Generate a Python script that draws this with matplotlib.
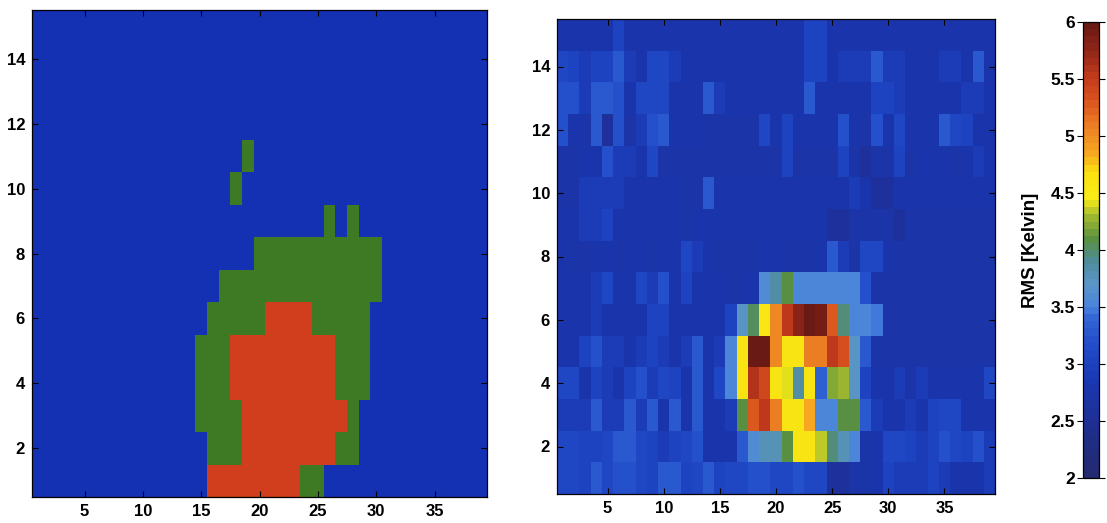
import numpy as np
import matplotlib
matplotlib.use("Agg")
import matplotlib.pyplot as plt
from matplotlib.colors import ListedColormap, LinearSegmentedColormap, Normalize

plt.rcParams['font.family'] = ['Liberation Sans', 'DejaVu Sans']
plt.rcParams['font.weight'] = 'bold'

# ---- data -------------------------------------------------------------
n_cols = 39
n_rows = 15
x_ticks = [5, 10, 15, 20, 25, 30, 35]
y_ticks = [2, 4, 6, 8, 10, 12, 14]
cbar_ticks = [2, 2.5, 3, 3.5, 4, 4.5, 5, 5.5, 6]
cbar_label = "RMS [Kelvin]"

# class map, bottom row first: 0 = background, 1 = warm, 2 = hot
class_rows = [
    "000000000000000222222221100000000000000",
    "000000000000000111222222221100000000000",
    "000000000000001111222222222100000000000",
    "000000000000001112222222221110000000000",
    "000000000000001112222222221110000000000",
    "000000000000000111112222111110000000000",
    "000000000000000011111111111111000000000",
    "000000000000000000011111111111000000000",
    "000000000000000000000000010100000000000",
    "000000000000000001000000000000000000000",
    "000000000000000000100000000000000000000",
    "000000000000000000000000000000000000000",
    "000000000000000000000000000000000000000",
    "000000000000000000000000000000000000000",
    "000000000000000000000000000000000000000",
]
class_colors = ["#1331b2", "#3e7a24", "#d13e1d"]

# RMS values, bottom row first
rms_rows = [
    [3.1,3.1,3.0,3.3,3.1,3.2,3.2,3.1,3.0,3.3, 3.3,3.0,3.1,3.3,3.0,3.1,3.1,3.2,3.2,3.1, 3.1,3.2,3.1,3.1,2.6,2.6,2.7,2.7,2.8,3.0, 2.9,2.9,2.9,3.0,2.9,2.8,2.8,2.8,2.9],
    [3.1,3.1,3.0,3.0,3.1,3.3,3.3,3.1,3.0,2.9, 3.0,3.1,3.2,2.8,2.8,2.8,3.3,3.6,3.8,3.8, 4.1,4.6,4.6,4.35,3.95,3.8,3.5,2.7,2.8,3.1, 3.1,3.0,2.9,3.0,3.2,3.1,3.0,3.2,2.9],
    [2.9,2.9,2.9,3.3,2.9,2.9,3.3,2.9,3.3,2.8, 3.3,2.8,3.3,2.8,2.8,2.9,4.1,5.3,5.55,5.1, 4.6,4.6,4.85,3.5,3.5,4.1,4.1,3.3,2.9,2.8, 2.8,2.9,2.8,3.0,3.1,3.1,2.8,2.8,2.8],
    [3.1,3.1,2.8,3.0,2.9,2.8,3.0,3.2,2.9,3.1, 3.0,2.8,3.3,2.8,3.1,3.5,4.6,5.6,5.4,4.6, 4.4,3.85,4.6,3.35,4.2,4.25,3.7,3.0,2.8,2.8, 2.9,2.7,2.9,2.8,2.8,2.8,2.8,2.8,3.1],
    [2.8,2.8,3.0,3.2,2.9,2.9,2.8,2.9,3.0,2.9, 2.8,2.9,3.3,2.8,2.9,3.5,4.6,5.95,5.95,5.0, 4.6,4.6,5.1,5.1,5.5,5.35,3.7,3.3,2.7,2.7, 2.7,2.7,2.7,2.7,2.7,2.7,2.7,2.7,2.7],
    [2.8,2.8,2.8,2.9,2.8,2.8,2.8,2.8,3.0,3.0, 2.8,2.8,2.8,2.8,2.8,3.0,3.7,4.05,4.55,5.0, 5.5,5.75,5.95,5.9,5.25,3.95,3.5,3.5,3.45,2.7, 2.7,2.7,2.7,2.7,2.7,2.7,2.7,2.7,2.7],
    [2.8,2.8,2.8,2.9,3.1,2.8,2.8,3.1,2.9,3.2, 2.8,3.0,2.8,2.8,2.8,2.7,2.7,2.8,3.6,3.85, 4.1,3.5,3.5,3.5,3.55,3.5,3.5,3.2,2.7,2.7, 2.7,2.7,2.7,2.7,2.7,2.7,2.7,2.7,2.7],
    [2.8,2.7,2.7,2.8,2.8,2.7,2.8,2.8,2.7,2.8, 2.8,3.1,2.9,2.8,2.7,2.7,2.7,2.7,2.8,2.8, 2.7,2.7,2.7,2.8,3.3,2.9,2.7,3.1,3.1,2.8, 2.7,2.7,2.7,2.7,2.7,2.7,2.7,2.7,2.7],
    [2.8,2.8,2.9,2.9,3.0,2.8,2.8,2.8,2.8,2.8, 2.8,2.7,2.8,2.8,2.8,2.8,2.8,2.8,2.8,2.8, 2.8,2.8,2.8,2.8,2.6,2.6,2.7,2.7,2.7,2.7, 2.6,2.7,2.7,2.7,2.7,2.7,2.7,2.7,2.7],
    [2.7,2.7,2.9,2.9,2.9,2.9,2.8,2.8,2.8,2.8, 2.8,2.7,2.7,3.3,2.8,2.8,2.8,2.8,2.8,2.8, 2.8,2.8,2.8,2.8,2.8,2.8,2.9,2.8,2.6,2.6, 2.8,2.8,2.8,2.8,2.8,2.8,2.8,2.8,2.8],
    [2.7,2.7,2.8,2.8,3.2,2.9,2.9,2.8,3.1,2.7, 2.7,2.7,2.7,2.7,2.7,2.7,2.7,2.7,2.7,2.7, 3.0,2.7,2.7,2.7,2.7,3.0,2.7,2.6,2.7,2.7, 3.0,2.7,2.8,2.8,2.8,2.7,2.8,2.9,2.8],
    [3.2,2.8,2.7,3.3,2.6,3.2,2.7,2.9,3.2,3.3, 2.8,2.8,2.8,2.7,2.7,2.7,2.7,2.7,3.1,2.8, 3.0,2.8,2.8,2.8,2.8,3.2,2.8,2.7,3.2,2.8, 3.1,2.8,2.8,2.8,3.3,3.1,3.0,2.8,2.8],
    [3.2,3.2,2.9,3.3,3.3,3.2,2.8,3.1,3.1,3.1, 2.8,2.8,2.8,3.3,2.9,2.8,2.8,2.8,2.8,2.8, 2.8,2.8,3.3,2.8,2.8,2.8,2.8,2.8,3.0,3.0, 2.9,2.8,2.8,2.8,2.8,2.8,2.9,2.9,2.8],
    [3.1,3.0,2.9,3.0,3.0,3.3,2.9,2.8,3.1,3.1, 2.9,2.8,2.8,2.8,2.8,2.8,2.8,2.8,2.8,2.8, 2.8,2.8,3.0,3.0,2.8,2.9,2.9,2.9,3.3,2.9, 2.9,2.8,2.8,2.8,2.9,2.9,2.8,3.3,2.8],
    [2.8,2.8,2.8,2.8,2.8,3.0,2.8,2.8,2.8,2.8, 2.8,2.8,2.8,2.8,2.8,2.8,2.8,2.8,2.8,2.8, 2.8,2.8,3.0,3.0,2.8,2.8,2.8,2.8,2.8,2.8, 2.8,2.8,2.8,2.8,2.8,2.8,2.8,2.8,2.8],
]

# ---- colour scale for the RMS map -------------------------------------
vmin, vmax = 2.0, 6.0
anchors = [
    (2.0, "#232a6e"), (2.5, "#1e2f96"), (2.8, "#1a37b0"), (3.0, "#1d42c0"),
    (3.2, "#2450cc"), (3.4, "#3468d6"), (3.5, "#4a84dc"), (3.7, "#5a96c8"),
    (3.9, "#4e8c98"), (4.1, "#5a9040"), (4.3, "#a0b830"), (4.45, "#f8ec18"),
    (4.7, "#fbe010"), (4.85, "#f7a820"), (5.1, "#ec8024"), (5.35, "#d8501e"),
    (5.55, "#c03a1c"), (5.8, "#8c2418"), (6.0, "#6a1a14"),
]
rms_cmap = LinearSegmentedColormap.from_list(
    "rms", [((v - vmin) / (vmax - vmin), c) for v, c in anchors], N=64)

# ---- figure -----------------------------------------------------------
W, H = 1107, 523
fig = plt.figure(figsize=(W / 100, H / 100), dpi=100)

def px_axes(x0, y0, x1, y1):
    return fig.add_axes([x0 / W, 1 - y1 / H, (x1 - x0) / W, (y1 - y0) / H])

extent = (0.5, n_cols + 0.5, 0.5, n_rows + 0.5)

def style(ax):
    ax.set_xticks(x_ticks)
    ax.set_yticks(y_ticks)
    ax.tick_params(direction="in", length=4, width=0.8, top=True, right=True,
                   labelsize=12, pad=5, colors="black")
    for lab in ax.get_xticklabels() + ax.get_yticklabels():
        lab.set_fontweight("bold")
    for s in ax.spines.values():
        s.set_linewidth(0.9)

# left: class map
classes = np.array([[int(ch) for ch in row] for row in class_rows])
ax1 = px_axes(32, 10, 487, 497)
ax1.imshow(classes, origin="lower", extent=extent, aspect="auto",
           cmap=ListedColormap(class_colors), vmin=-0.5, vmax=2.5,
           interpolation="nearest")
style(ax1)

# right: RMS map
rms = np.array(rms_rows)
ax2 = px_axes(557, 19, 995, 494)
im = ax2.imshow(rms, origin="lower", extent=extent, aspect="auto",
                cmap=rms_cmap, norm=Normalize(vmin, vmax),
                interpolation="nearest")
style(ax2)

# colour bar
cax = px_axes(1083, 22, 1099, 478)
cb = fig.colorbar(im, cax=cax, ticks=cbar_ticks)
cb.outline.set_linewidth(0.9)
cb.ax.yaxis.set_ticks_position("both")
cb.ax.tick_params(direction="out", length=4, width=0.8, labelleft=True,
                  labelright=False, labelsize=12.5, pad=2)
cb.ax.set_yticklabels([f"{t:g}" for t in cbar_ticks], fontweight="bold")
cb.ax.yaxis.set_label_position("left")
cb.set_label(cbar_label, fontsize=13.5, fontweight="bold", labelpad=8)

fig.savefig("out.png", dpi=100)
